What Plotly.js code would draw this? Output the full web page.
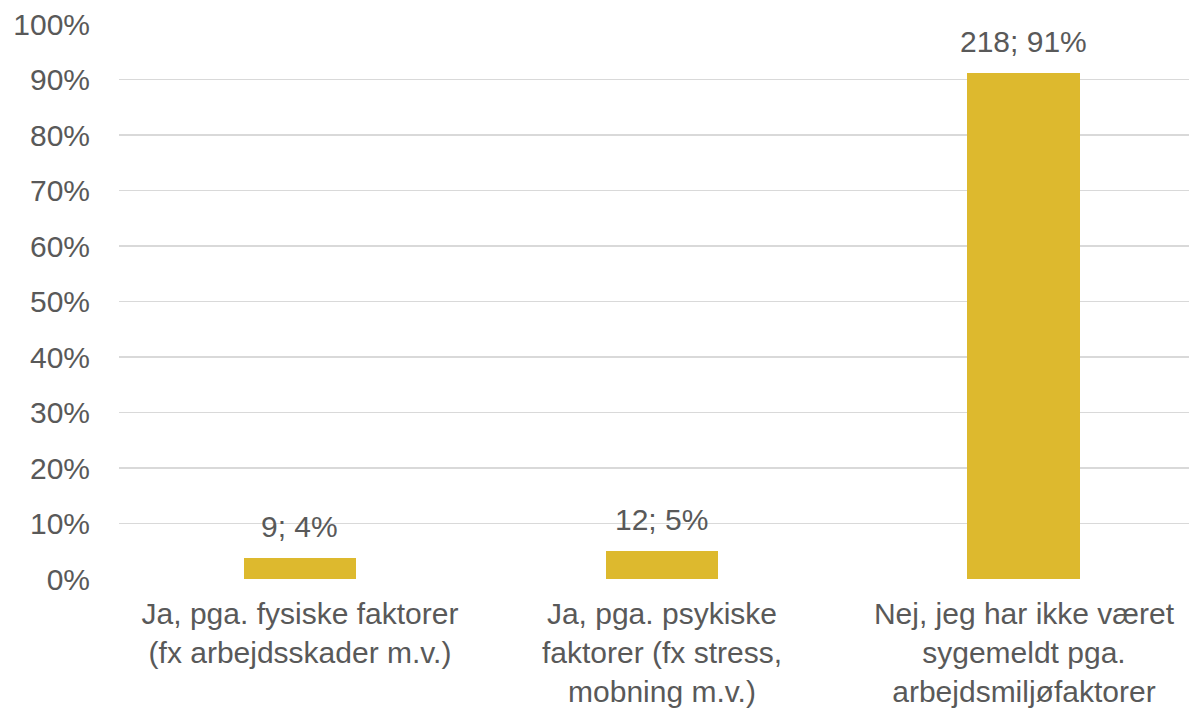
<!DOCTYPE html>
<html>
<head>
<meta charset="utf-8">
<script src="https://cdn.plot.ly/plotly-3.0.1.min.js"></script>
<style>html,body{margin:0;padding:0;background:#fff;}#chart{width:1189px;height:709px;}</style>
</head>
<body>
<div id="chart"></div>
<script>
const categories = [
  "Ja, pga. fysiske faktorer<br>(fx arbejdsskader m.v.)",
  "Ja, pga. psykiske<br>faktorer (fx stress,<br>mobning m.v.)",
  "Nej, jeg har ikke været<br>sygemeldt pga.<br>arbejdsmiljøfaktorer"
];
const counts = [9, 12, 218];
const percents = [3.77, 5.02, 91.21];
const labels = ["9; 4%", "12; 5%", "218; 91%"];
const yTickVals = [0,10,20,30,40,50,60,70,80,90,100];
const yTickText = ["0%","10%","20%","30%","40%","50%","60%","70%","80%","90%","100%"];

const font = "Liberation Sans, Arial, sans-serif";
const textColor = "#595959";
const fs = 30;

const trace = {
  type: "bar",
  x: [0,1,2],
  y: percents,
  width: 0.312,
  marker: {color: "#DDB92E"},
  hoverinfo: "none"
};

const annotations = percents.map((v,i) => ({
  x: i, y: v, xref: "x", yref: "y",
  text: labels[i], showarrow: false,
  yanchor: "bottom", yshift: 13,
  font: {family: font, size: fs, color: textColor}
}));

const layout = {
  width: 1189, height: 709,
  margin: {l: 119, r: 0, t: 24, b: 130},
  paper_bgcolor: "#fff", plot_bgcolor: "#fff",
  showlegend: false,
  font: {family: font, size: fs, color: textColor},
  xaxis: {
    range: [-0.5, 2.456],
    tickmode: "array", tickvals: [0,1,2], ticktext: categories,
    showgrid: false, zeroline: false, showline: false, ticks: "",
    tickangle: 0,
    ticklabelstandoff: 14,
    tickfont: {family: font, size: fs, color: textColor},
    fixedrange: true
  },
  yaxis: {
    range: [0, 100],
    tickmode: "array", tickvals: yTickVals, ticktext: yTickText,
    showgrid: true, gridcolor: "#d9d9d9", gridwidth: 1.5,
    zeroline: false, showline: false, ticks: "",
    ticklabelstandoff: 28,
    tickfont: {family: font, size: fs, color: textColor},
    fixedrange: true
  },
  annotations: annotations,
  bargap: 0
};

Plotly.newPlot("chart", [trace], layout, {displayModeBar: false, staticPlot: true});
</script>
</body>
</html>
